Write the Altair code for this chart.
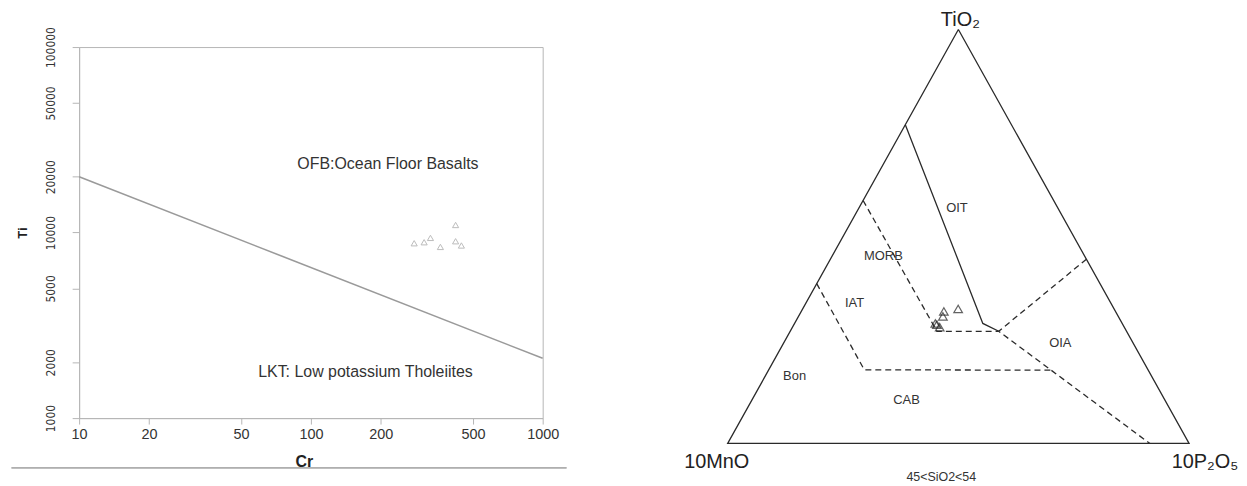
import altair as alt
import pandas as pd

# ---------------- Left panel: Ti vs Cr (log-log) ----------------
cr = [279, 308, 328, 362, 421, 421, 446]
ti = [8760, 8870, 9360, 8370, 10990, 8980, 8520]
divide_cr = [10, 1000]
divide_ti = [20000, 2100]
x_ticks = [10, 20, 50, 100, 200, 500, 1000]
y_ticks = [1000, 2000, 5000, 10000, 20000, 50000, 100000]
field_names = ["OFB:Ocean Floor Basalts", "LKT: Low potassium Tholeiites"]
field_cr = [215, 172]
field_ti = [23300, 1764]

# ---------------- Right panel: TiO2 - 10MnO - 10P2O5 ternary ----------------
sample_tio2 = [31.9, 32.5, 30.7, 28.7, 28.1, 29.0]
sample_mno = [37.2, 33.8, 38.0, 40.3, 40.0, 40.5]
sample_p2o5 = [30.9, 33.7, 31.3, 31.0, 31.9, 30.5]

outline_tio2 = [100, 0, 0, 100]
outline_mno = [0, 100, 0, 0]
outline_p2o5 = [0, 0, 100, 0]

oit_tio2 = [77.0, 29.0, 27.1]
oit_mno = [23.0, 30.2, 27.7]
oit_p2o5 = [0.0, 40.8, 45.2]

oia_tio2 = [44.5, 27.1, 0.0]
oia_mno = [0.0, 27.7, 8.5]
oia_p2o5 = [55.5, 45.2, 91.5]

morb_tio2 = [58.7, 27.1, 27.1]
morb_mno = [41.3, 41.1, 27.7]
morb_p2o5 = [0.0, 31.8, 45.2]

iat_tio2 = [38.6, 17.8, 17.7]
iat_mno = [61.4, 61.5, 20.9]
iat_p2o5 = [0.0, 20.7, 61.4]

region_names = ["OIT", "MORB", "IAT", "OIA", "Bon", "CAB"]
region_tio2 = [56.8, 45.3, 34.0, 24.2, 16.2, 10.5]
region_mno = [21.9, 43.6, 55.5, 15.8, 77.4, 56.0]
region_p2o5 = [21.3, 11.1, 10.5, 60.0, 6.4, 33.5]


def tern(tio2, p2o5):
    return [(p + t / 2) / 100 for t, p in zip(tio2, p2o5)], [t / 100 for t in tio2]


def seg_frame(name, tio2, mno, p2o5):
    u, v = tern(tio2, p2o5)
    return pd.DataFrame({"seg": name, "idx": range(len(u)), "u": u, "v": v,
                         "TiO2": tio2, "MnO": mno, "P2O5": p2o5})


FONT = "Liberation Sans"
GRAY = "#b5b5b5"

# ----- left chart -----
df_pts = pd.DataFrame({"Cr": cr, "Ti": ti})
df_div = pd.DataFrame({"Cr": divide_cr, "Ti": divide_ti})
df_fields = pd.DataFrame({"name": field_names, "Cr": field_cr, "Ti": field_ti})

xs = alt.Scale(type="log", domain=[10, 1000], nice=False)
ys = alt.Scale(type="log", domain=[1000, 100000], nice=False)
x_axis = alt.Axis(values=x_ticks, format="d", grid=False, domainColor=GRAY, tickColor=GRAY,
                  tickSize=6, labelFontSize=14.5, labelColor="#333", labelFont=FONT,
                  labelPadding=4, labelFlush=False, title="Cr", titleFont=FONT,
                  titleFontSize=16, titleFontWeight="bold", titleColor="#222",
                  titlePadding=12, titleX=226)
y_axis = alt.Axis(values=y_ticks, format="d", grid=False, domainColor=GRAY, tickColor=GRAY,
                  tickSize=7, labelFontSize=12, labelColor="#333",
                  labelFont="Liberation Sans Narrow, DejaVu Sans Condensed, Liberation Sans",
                  labelAngle=270, labelAlign="center", labelBaseline="bottom", labelPadding=15,
                  labelFlush=False, title="Ti", titleFont=FONT, titleFontSize=13,
                  titleFontWeight="bold", titleColor="#222", titlePadding=15)

left_line = alt.Chart(df_div).mark_line(color="#9a9a9a", strokeWidth=1.6).encode(
    x=alt.X("Cr:Q", scale=xs, axis=x_axis), y=alt.Y("Ti:Q", scale=ys, axis=y_axis))
left_pts = alt.Chart(df_pts).mark_point(shape="triangle-up", filled=False, size=38,
                                        color="#a0a0a0", strokeWidth=1).encode(
    x=alt.X("Cr:Q", scale=xs), y=alt.Y("Ti:Q", scale=ys))
left_txt = alt.Chart(df_fields).mark_text(fontSize=16, font=FONT, color="#333").encode(
    x=alt.X("Cr:Q", scale=xs), y=alt.Y("Ti:Q", scale=ys), text="name:N")
sep = alt.Chart(df_div).mark_rule(color="#aaaaaa", strokeWidth=1.2).encode(
    x=alt.value(-68), x2=alt.value(490), y=alt.value(423))

left = alt.layer(left_line, left_pts, left_txt, sep).properties(
    width=466, height=373, view=alt.ViewBackground(stroke=GRAY))

# ----- right chart -----
solid = pd.concat([seg_frame("outline", outline_tio2, outline_mno, outline_p2o5),
                   seg_frame("oit", oit_tio2, oit_mno, oit_p2o5)])
dashed = pd.concat([seg_frame("oia", oia_tio2, oia_mno, oia_p2o5),
                    seg_frame("morb", morb_tio2, morb_mno, morb_p2o5),
                    seg_frame("iat", iat_tio2, iat_mno, iat_p2o5)])
su, sv = tern(sample_tio2, sample_p2o5)
df_samp = pd.DataFrame({"u": su, "v": sv, "TiO2": sample_tio2, "MnO": sample_mno, "P2O5": sample_p2o5})
ru, rv = tern(region_tio2, region_p2o5)
df_reg = pd.DataFrame({"name": region_names, "u": ru, "v": rv})

us = alt.Scale(domain=[-0.2792, 1.1007], nice=False, zero=False)
vs = alt.Scale(domain=[0.0613, 0.9575], nice=False, zero=False)
X = alt.X("u:Q", scale=us, axis=None)
Y = alt.Y("v:Q", scale=vs, axis=None)

r_solid = alt.Chart(solid).mark_line(color="#2a2a2a", strokeWidth=1.3).encode(
    x=X, y=Y, detail="seg:N", order="idx:Q")
r_dash = alt.Chart(dashed).mark_line(color="#2a2a2a", strokeWidth=1.3, strokeDash=[6, 4]).encode(
    x=X, y=Y, detail="seg:N", order="idx:Q")
r_pts = alt.Chart(df_samp).mark_point(shape="triangle-up", filled=False, size=75,
                                      color="#222", strokeWidth=1.2).encode(x=X, y=Y)
r_reg = alt.Chart(df_reg).mark_text(fontSize=13, font=FONT, color="#333").encode(
    x=X, y=Y, text="name:N")

vu, vv = tern([100, 0, 0], [0, 0, 100])
apex = pd.DataFrame({"u": [vu[0]], "v": [vv[0]], "t": ["TiO₂"]})
left_v = pd.DataFrame({"u": [vu[1]], "v": [vv[1]], "t": ["10MnO"]})
right_v = pd.DataFrame({"u": [vu[2]], "v": [vv[2]], "t": ["10P₂O₅"]})
cap_u, cap_v = tern([0], [46.3])
cap = pd.DataFrame({"u": cap_u, "v": cap_v, "t": ["45<SiO2<54"]})

t_apex = alt.Chart(apex).mark_text(fontSize=20, font=FONT, color="#222", dx=2, dy=-9).encode(
    x=X, y=Y, text="t:N")
t_left = alt.Chart(left_v).mark_text(fontSize=20, font=FONT, color="#222", dx=-11, dy=19).encode(
    x=X, y=Y, text="t:N")
t_right = alt.Chart(right_v).mark_text(fontSize=20, font=FONT, color="#222", dx=16, dy=19).encode(
    x=X, y=Y, text="t:N")
t_cap = alt.Chart(cap).mark_text(fontSize=12.5, font=FONT, color="#333", dy=33.5).encode(
    x=X, y=Y, text="t:N")

right = alt.layer(r_solid, r_dash, r_pts, r_reg, t_apex, t_left, t_right, t_cap).properties(
    width=640, height=373, view=alt.ViewBackground(stroke="transparent"))

chart = alt.hconcat(left, right, spacing=56.5, bounds="flush").properties(
    padding={"left": 1.5, "top": 0, "right": 0, "bottom": 0}, background="white")

chart.save("out.html", embed_options={"renderer": "svg", "actions": False})
